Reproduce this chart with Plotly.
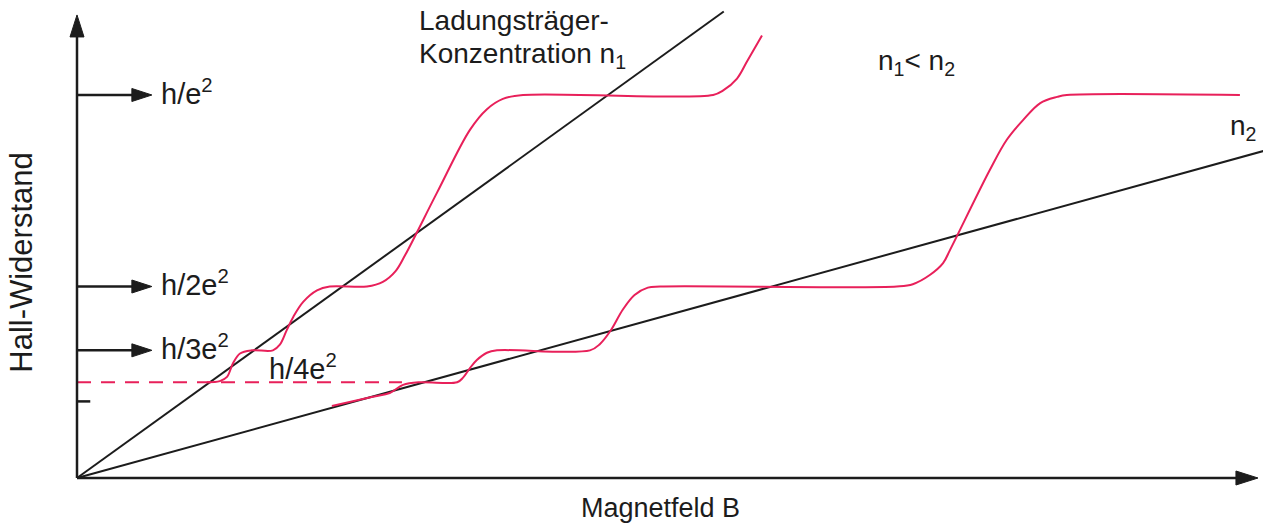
import plotly.graph_objects as go

# Hall resistance R (units of h/e^2) versus magnetic field B (arbitrary units)
levels = [1.0, 1 / 2, 1 / 3]
level_labels = ["h/e<sup>2</sup>", "h/2e<sup>2</sup>", "h/3e<sup>2</sup>"]
quarter_level = 1 / 4
fifth_level = 1 / 5

# Classical Hall lines for the two carrier concentrations
n1_line_B = [0.0, 1.218]
n1_line_R = [0.0, 1.218]
n2_line_B = [0.0, 2.24]
n2_line_R = [0.0, 0.856]

# Measured quantum Hall curve, concentration n1
n1_B = [0.2445, 0.269, 0.2825, 0.294, 0.307, 0.3296, 0.369, 0.382, 0.395, 0.407,
        0.426, 0.452, 0.476, 0.546, 0.576, 0.600, 0.618, 0.678, 0.740, 0.772,
        0.802, 0.840, 1.198, 1.217, 1.243, 1.262, 1.290]
n1_R = [0.25, 0.253, 0.264, 0.300, 0.325, 0.3333, 0.3333, 0.348, 0.386, 0.420,
        0.460, 0.490, 0.5, 0.5, 0.512, 0.540, 0.582, 0.745, 0.909, 0.963,
        0.990, 1.0, 1.0, 1.012, 1.043, 1.088, 1.155]

# Measured quantum Hall curve, concentration n2
n2_B = [0.480, 0.557, 0.589, 0.614, 0.646, 0.716, 0.727, 0.740, 0.753, 0.772,
        0.791, 0.966, 0.985, 1.005, 1.028, 1.050, 1.075, 1.098, 1.544,
        1.574, 1.606, 1.631, 1.644, 1.719, 1.751, 1.782, 1.814,
        1.846, 1.864, 2.190]
n2_R = [0.188, 0.212, 0.222, 0.243, 0.25, 0.25, 0.262, 0.287, 0.308, 0.327,
        0.3333, 0.3333, 0.350, 0.385, 0.440, 0.478, 0.497, 0.5, 0.5,
        0.506, 0.530, 0.561, 0.595, 0.804, 0.883, 0.935, 0.979,
        0.995, 1.0, 1.0]

RED = "#e8205a"
INK = "#1c1c1c"
FONT = "Liberation Sans, Arial, sans-serif"

X_RANGE = [-0.145, 2.2335]
Y_RANGE = [-0.1253, 1.248]

fig = go.Figure()

fig.add_trace(go.Scatter(x=n1_line_B, y=n1_line_R, mode="lines",
                         line=dict(color=INK, width=2), hoverinfo="skip"))
fig.add_trace(go.Scatter(x=n2_line_B, y=n2_line_R, mode="lines",
                         line=dict(color=INK, width=2), hoverinfo="skip"))
fig.add_trace(go.Scatter(x=n1_B, y=n1_R, mode="lines",
                         line=dict(color=RED, width=2, shape="spline", smoothing=1.0),
                         hoverinfo="skip"))
fig.add_trace(go.Scatter(x=n2_B, y=n2_R, mode="lines",
                         line=dict(color=RED, width=2, shape="spline", smoothing=1.0),
                         hoverinfo="skip"))

# dashed reference line at h/4e^2
fig.add_trace(go.Scatter(x=[0.0, 0.612], y=[quarter_level, quarter_level], mode="lines",
                         line=dict(color=RED, width=2, dash="14px,10px"), hoverinfo="skip"))

shapes = []


def arrow_line(x0, y0, x1, y1, width):
    shapes.append(dict(type="line", xref="x", yref="y", x0=x0, y0=y0, x1=x1, y1=y1,
                       line=dict(color=INK, width=width), layer="above"))


def arrow_head(x, y, direction, length, half):
    # filled triangle, tip at (x, y), sized in pixels
    if direction == "right":
        path = f"M0,0 L{-length},{half} L{-length},{-half} Z"
    else:
        path = f"M0,0 L{half},{-length} L{-half},{-length} Z"
    shapes.append(dict(type="path", xref="x", yref="y", xsizemode="pixel",
                       ysizemode="pixel", xanchor=x, yanchor=y, path=path,
                       fillcolor=INK, line=dict(color=INK, width=1), layer="above"))


# coordinate axes
arrow_line(0, 0, 2.20, 0, 2.5)
arrow_head(2.224, 0, "right", 22, 7)
arrow_line(0, 0, 0, 1.17, 2.5)
arrow_head(0, 1.209, "up", 22, 7)

# level markers on the resistance axis
for lv in levels:
    arrow_line(0, lv, 0.12, lv, 2.5)
    arrow_head(0.141, lv, "right", 20, 6.5)

# short tick at h/5e^2
arrow_line(0, fifth_level, 0.025, fifth_level, 2.5)

fig.update_layout(shapes=shapes)

annotations = []


def label(text, x, y, xanchor="left", size=28, angle=0):
    annotations.append(dict(text=text, x=x, y=y, xref="x", yref="y", showarrow=False,
                            xanchor=xanchor, yanchor="middle", textangle=angle,
                            font=dict(family=FONT, size=size, color=INK)))


for lv, txt in zip(levels, level_labels):
    label(txt, 0.154, lv + 0.008, size=29)
label("h/4e<sup>2</sup>", 0.358, 0.29, size=29)
label("Ladungsträger-", 0.640, 1.195)
label("Konzentration n<sub>1</sub>", 0.640, 1.102)
label("n<sub>1</sub>< n<sub>2</sub>", 1.505, 1.086)
label("n<sub>2</sub>", 2.168, 0.914)
label("Magnetfeld B", 1.098, -0.078, xanchor="center", size=27)
label("Hall-Widerstand", -0.104, 0.564, xanchor="center", size=31, angle=-90)

fig.update_layout(
    annotations=annotations,
    width=1263, height=526,
    margin=dict(l=0, r=0, t=0, b=0),
    paper_bgcolor="white", plot_bgcolor="white",
    showlegend=False,
    xaxis=dict(range=X_RANGE, visible=False, fixedrange=True),
    yaxis=dict(range=Y_RANGE, visible=False, fixedrange=True),
)

fig.write_html("out.html")
